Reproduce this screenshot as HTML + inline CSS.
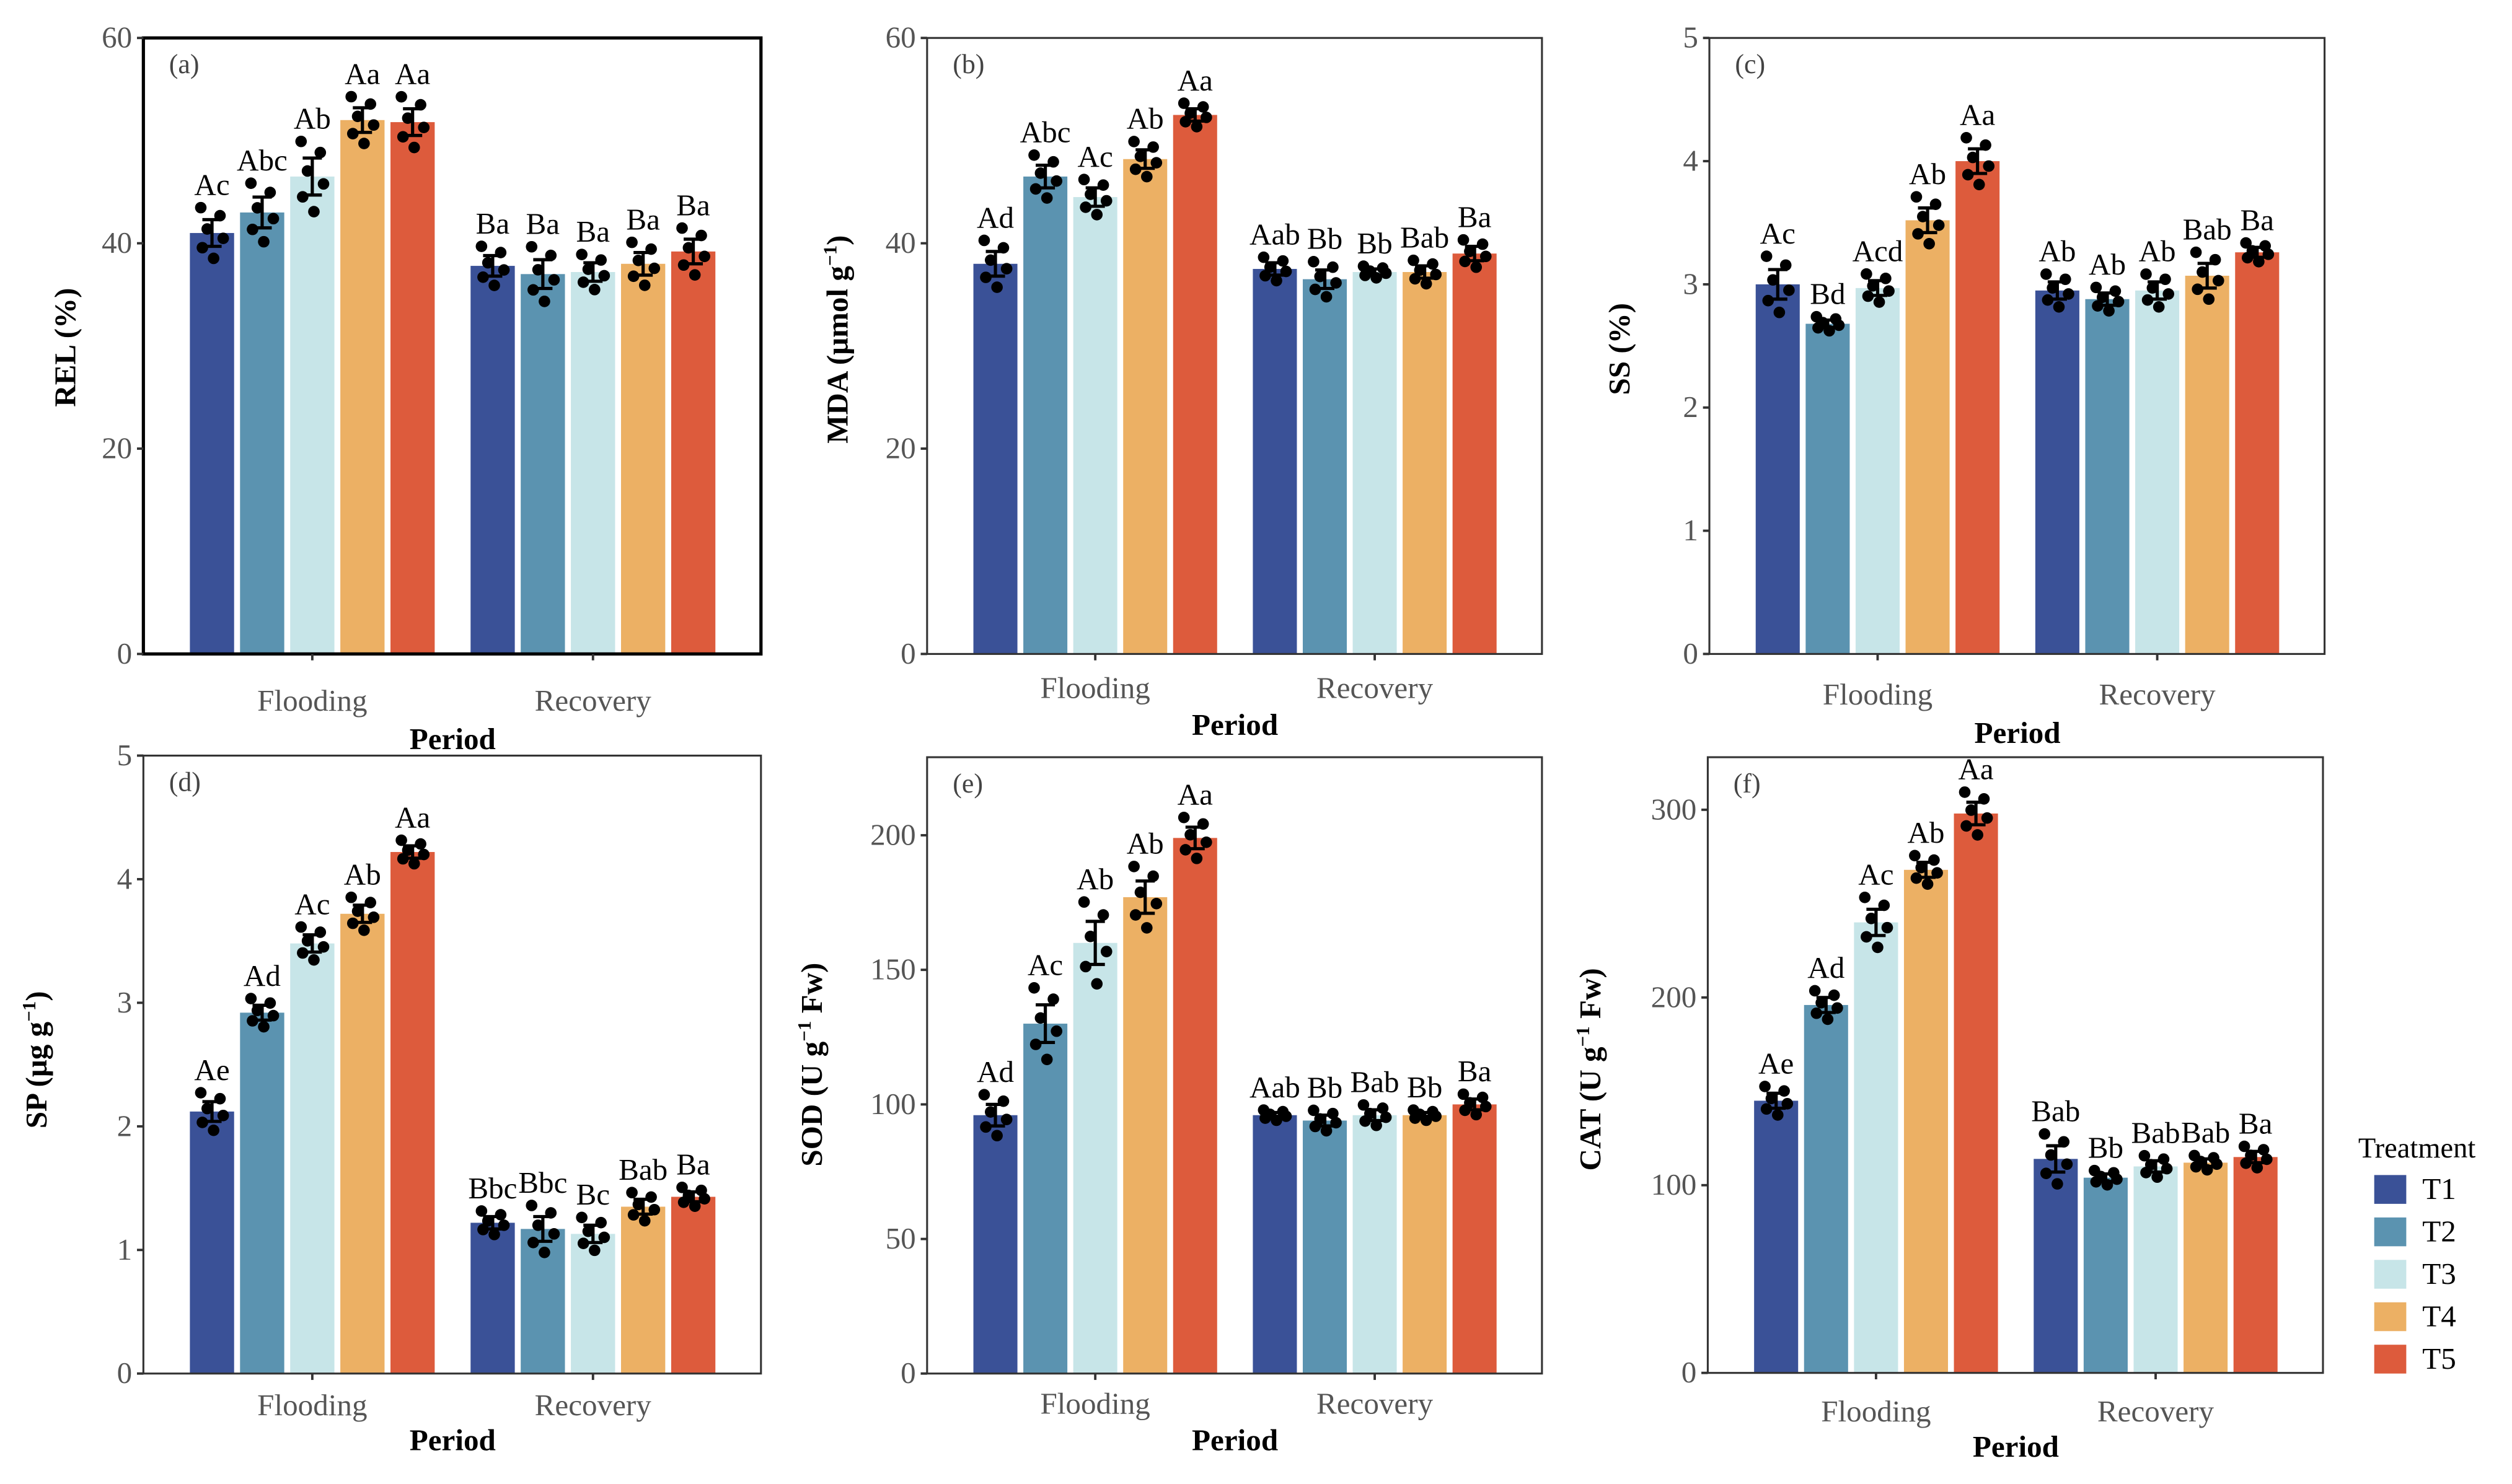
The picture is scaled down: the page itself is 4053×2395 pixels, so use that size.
<!DOCTYPE html>
<html><head><meta charset="utf-8"><style>
html,body{margin:0;padding:0;background:#fff;}
svg{display:block;}
svg text{font-family:"Liberation Serif","DejaVu Serif",serif !important;}
</style></head><body>
<svg id="fig" width="4053" height="2395" viewBox="0 0 1568 927" preserveAspectRatio="none" xmlns="http://www.w3.org/2000/svg" font-family="Liberation Serif, DejaVu Serif, serif"></svg>
<script>
// ---- data ----
const periods = ["Flooding","Recovery"];
const treatments = ["T1","T2","T3","T4","T5"];
const colors = ["#3a5197","#5b93b0","#c7e5e8","#ecb064","#dd5b3c"];

const relFlood = [41.0,43.0,46.5,52.0,51.8];
const relRec   = [37.8,37.0,37.2,38.0,39.2];
const relErr   = [[1.3,1.5,1.8,1.2,1.3],[1.0,1.4,0.9,1.1,1.2]];
const relLbl   = [["Ac","Abc","Ab","Aa","Aa"],["Ba","Ba","Ba","Ba","Ba"]];

const mdaFlood = [38.0,46.5,44.5,48.2,52.5];
const mdaRec   = [37.5,36.5,37.2,37.2,39.0];
const mdaErr   = [[1.2,1.1,0.9,0.9,0.6],[0.6,0.9,0.3,0.6,0.7]];
const mdaLbl   = [["Ad","Abc","Ac","Ab","Aa"],["Aab","Bb","Bb","Bab","Ba"]];

const ssFlood = [3.0,2.68,2.97,3.52,4.0];
const ssRec   = [2.95,2.88,2.95,3.07,3.26];
const ssErr   = [[0.12,0.03,0.06,0.1,0.1],[0.07,0.05,0.07,0.1,0.04]];
const ssLbl   = [["Ac","Bd","Acd","Ab","Aa"],["Ab","Ab","Ab","Bab","Ba"]];

const spFlood = [2.12,2.92,3.48,3.72,4.22];
const spRec   = [1.22,1.17,1.13,1.35,1.43];
const spErr   = [[0.08,0.06,0.07,0.07,0.05],[0.05,0.1,0.07,0.06,0.04]];
const spLbl   = [["Ae","Ad","Ac","Ab","Aa"],["Bbc","Bbc","Bc","Bab","Ba"]];

const sodFlood = [96,130,160,177,199];
const sodRec   = [96,94,96,96,100];
const sodErr   = [[4,7,8,6,4],[1,2,2,1,2]];
const sodLbl   = [["Ad","Ac","Ab","Ab","Aa"],["Aab","Bb","Bab","Bb","Ba"]];

const catFlood = [145,196,240,268,298];
const catRec   = [114,104,110,112,115];
const catErr   = [[4,4,7,4,6],[7,2,3,2,3]];
const catLbl   = [["Ae","Ad","Ac","Ab","Aa"],["Bab","Bb","Bab","Bab","Ba"]];

const jitter = [[-7,1.9],[5,1.3],[-3,0.3],[7,-0.4],[-6,-1.1],[1,-1.9]];

const panels = [
 {id:"a",x0:89.5,x1:475,y0:23.7,y1:408.5,max:60,ticks:[0,20,40,60],data:[relFlood,relRec],err:relErr,lbl:relLbl,title:"REL (%)",tx:40,ty:217,xl:438,pl:462,bw:2},
 {id:"b",x0:578.7,x1:962.5,y0:23.7,y1:408.5,max:60,ticks:[0,20,40,60],data:[mdaFlood,mdaRec],err:mdaErr,lbl:mdaLbl,title:"MDA (μmol g|−1|)",tx:522,ty:212,xl:430,pl:453,bw:1.2},
 {id:"c",x0:1067,x1:1451,y0:23.7,y1:408.5,max:5,ticks:[0,1,2,3,4,5],data:[ssFlood,ssRec],err:ssErr,lbl:ssLbl,title:"SS (%)",tx:1010,ty:218,xl:434,pl:458,bw:1.2},
 {id:"d",x0:89.5,x1:475,y0:472,y1:858,max:5,ticks:[0,1,2,3,4,5],data:[spFlood,spRec],err:spErr,lbl:spLbl,title:"SP (μg g|−1|)",tx:22,ty:662,xl:878,pl:900,bw:1.2},
 {id:"e",x0:578.7,x1:962.5,y0:473,y1:858,max:229,ticks:[0,50,100,150,200],data:[sodFlood,sodRec],err:sodErr,lbl:sodLbl,title:"SOD (U g|−1| Fw)",tx:506,ty:665,xl:877,pl:900,bw:1.2},
 {id:"f",x0:1066,x1:1450,y0:473,y1:857.6,max:328,ticks:[0,100,200,300],data:[catFlood,catRec],err:catErr,lbl:catLbl,title:"CAT (U g|−1| Fw)",tx:992,ty:668,xl:882,pl:904,bw:1.2}
];

const NS="http://www.w3.org/2000/svg";
const svg=document.getElementById("fig");
const FF="Liberation Serif, DejaVu Serif, serif";
function mk(tag,attrs,parent){const e=document.createElementNS(NS,tag);for(const k in attrs)e.setAttribute(k,attrs[k]);if(tag==="text")e.setAttribute("font-family",FF);(parent||svg).appendChild(e);return e;}

panels.forEach(p=>{
  const g=mk("g",{});
  
  
  const ys=v=>p.y1-(v/p.max)*(p.y1-p.y0);
  const w=p.x1-p.x0;
  const gc=[p.x0+w*0.2735,p.x0+w*0.728];
  const pitch=w*0.0812, bw=w*0.0716;
  p.data.forEach((series,gi)=>{
    series.forEach((v,ti)=>{
      const cx=gc[gi]+(ti-2)*pitch;
      const r=mk("rect",{x:cx-bw/2,y:ys(v),width:bw,height:p.y1-ys(v),fill:colors[ti]},g);
      
      
    });
  });
  p.data.forEach((series,gi)=>{
    series.forEach((v,ti)=>{
      const cx=gc[gi]+(ti-2)*pitch;
      const e=p.err[gi][ti];
      const yt=ys(v+e), yb=ys(v-e);
      const eg=mk("g",{stroke:"#000","stroke-width":2},g);
      
      
      mk("line",{x1:cx,x2:cx,y1:yt,y2:yb},eg);
      mk("line",{x1:cx-6,x2:cx+6,y1:yt,y2:yt},eg);
      mk("line",{x1:cx-6,x2:cx+6,y1:yb,y2:yb},eg);
      let top=yt;
      jitter.forEach(j=>{
        const py=ys(v+e*j[1]);
        top=Math.min(top,py);
        const c=mk("circle",{cx:cx+j[0],cy:py,r:3.6,fill:"#000"},g);
        
        
      });
      const t=mk("text",{x:cx,y:top-8,"text-anchor":"middle","font-size":19,fill:"#000"},g);
      t.textContent=p.lbl[gi][ti];
      
      
    });
  });
  const fr=mk("rect",{x:p.x0,y:p.y0,width:w,height:p.y1-p.y0,fill:"none",stroke:p.bw>1.5?"#000":"#333","stroke-width":p.bw},g);
  
  
  p.ticks.forEach(tv=>{
    const y=ys(tv);
    mk("line",{x1:p.x0-4,x2:p.x0,y1:y,y2:y,stroke:"#333","stroke-width":1.5},g);
    const t=mk("text",{x:p.x0-7,y:y+6,"text-anchor":"end","font-size":19,fill:"#555"},g);
    t.textContent=tv;
    
    
  });
  gc.forEach((x,gi)=>{
    mk("line",{x1:x,x2:x,y1:p.y1,y2:p.y1+4,stroke:"#333","stroke-width":1.5},g);
    const t=mk("text",{x:x,y:p.xl+6,"text-anchor":"middle","font-size":19,fill:"#555"},g);
    t.textContent=periods[gi];
    
    
  });
  const pt=mk("text",{x:(gc[0]+gc[1])/2,y:p.pl+6,"text-anchor":"middle","font-size":19,"font-weight":"bold",fill:"#000"},g);
  pt.textContent="Period";
  
  
  const pl=mk("text",{x:p.x0+16,y:p.y0+22,"font-size":17,fill:"#444"},g);
  pl.textContent="("+p.id+")";
  
  
  const yt=mk("text",{transform:`translate(${p.tx+7},${p.ty}) rotate(-90)`,"text-anchor":"middle","font-size":19,"font-weight":"bold",fill:"#000"},g);
  
  
  const parts=p.title.split("|");
  parts.forEach((s,i)=>{
    const ts=document.createElementNS(NS,"tspan");
    if(i===1){ts.setAttribute("font-size","12");ts.setAttribute("dy","-7");}
    if(i===2){ts.setAttribute("dy","7");}
    ts.textContent=s;yt.appendChild(ts);
  });
});

const lg=mk("g",{});


const lt=mk("text",{x:1472,y:723,"font-size":18,fill:"#000"},lg);
lt.textContent="Treatment";


treatments.forEach((tr,i)=>{
  const y=734+i*26.5;
  const r=mk("rect",{x:1482,y:y,width:20,height:18,fill:colors[i]},lg);
  
  
  const t=mk("text",{x:1512,y:y+15,"font-size":19,fill:"#000"},lg);
  t.textContent=tr;
  
  
});
</script>
</body></html>
